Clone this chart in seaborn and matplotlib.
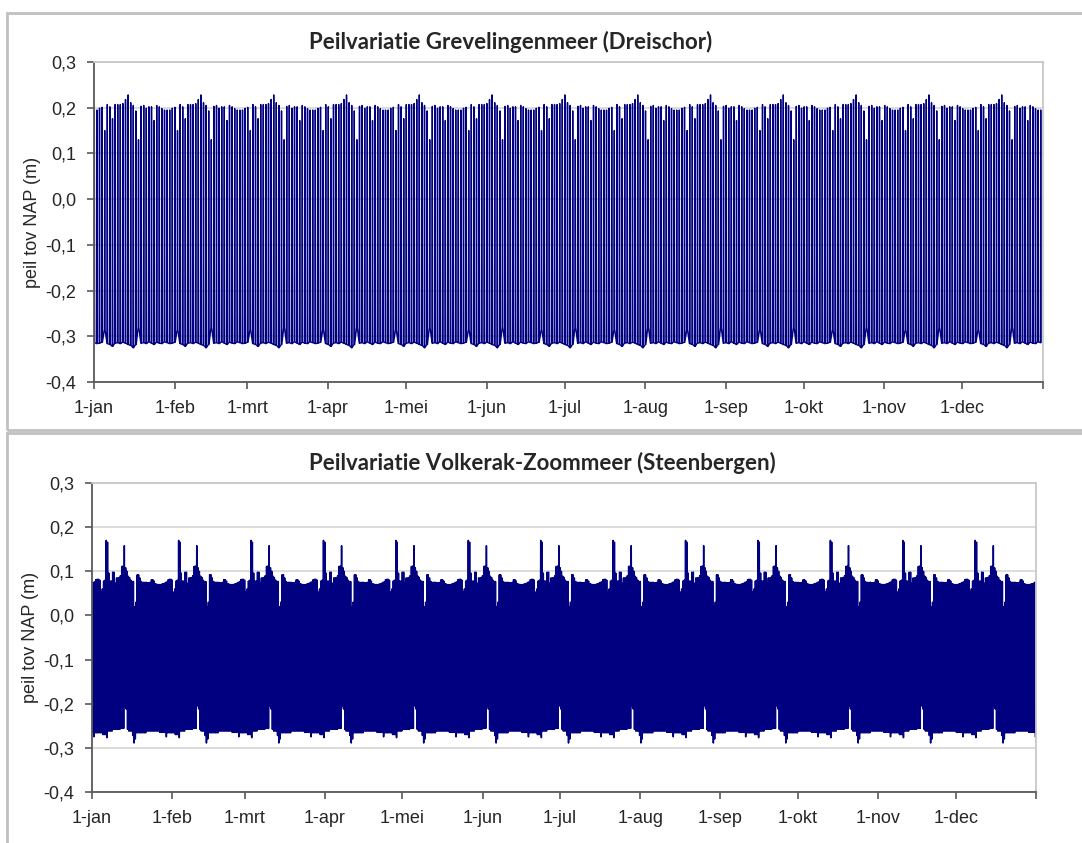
import numpy as np
import pandas as pd
import matplotlib.pyplot as plt
import seaborn as sns
from matplotlib.patches import Rectangle

# Grevelingenmeer: daily high / low (m NAP) over one 28-day cycle, starting at the peak
grev_high = [0.228, 0.211, 0.205, 0.193, 0.130, 0.203, 0.205, 0.199, 0.202, 0.202,
             0.172, 0.205, 0.202, 0.198, 0.195, 0.195, 0.195, 0.199, 0.201, 0.150,
             0.207, 0.202, 0.176, 0.207, 0.207, 0.207, 0.209, 0.218]
grev_low = [-0.318, -0.320, -0.325, -0.318, -0.280, -0.315, -0.314, -0.316, -0.312, -0.315,
            -0.318, -0.313, -0.315, -0.316, -0.312, -0.314, -0.316, -0.315, -0.313, -0.285,
            -0.316, -0.318, -0.322, -0.315, -0.314, -0.316, -0.313, -0.315]
grev_offset = 13  # days from 1-jan to first peak

# Volkerak-Zoommeer: half-daily max / min (m NAP) over one 28-day cycle, starting at first spike
volk_high = [0.170, 0.166, 0.096, 0.078, 0.078, 0.098, 0.098, 0.073, 0.085, 0.085,
             0.086, 0.090, 0.111, 0.112, 0.158, 0.108, 0.100, 0.089, 0.086, 0.080,
             0.077, 0.077, 0.020, 0.030, 0.092, 0.092, 0.085, 0.077, 0.075, 0.075,
             0.075, 0.075, 0.074, 0.074, 0.075, 0.081, 0.081, 0.078, 0.072, 0.071,
             0.070, 0.070, 0.070, 0.071, 0.072, 0.073, 0.075, 0.076, 0.081, 0.082,
             0.082, 0.080, 0.053, 0.060, 0.078, 0.080]
volk_low = [-0.277, -0.262, -0.262, -0.262, -0.262, -0.258, -0.258, -0.258, -0.258, -0.258,
            -0.258, -0.256, -0.256, -0.256, -0.205, -0.212, -0.258, -0.262, -0.262, -0.262,
            -0.272, -0.289, -0.280, -0.266, -0.266, -0.266, -0.266, -0.266, -0.266, -0.266,
            -0.266, -0.262, -0.262, -0.262, -0.262, -0.262, -0.262, -0.262, -0.262, -0.262,
            -0.262, -0.265, -0.265, -0.265, -0.265, -0.265, -0.275, -0.266, -0.266, -0.266,
            -0.266, -0.266, -0.266, -0.270, -0.270, -0.270]
volk_offset = 11  # half-days from 1-jan to first spike

month_starts = [0, 31, 59, 90, 120, 151, 181, 212, 243, 273, 304, 334, 365]
month_labels = ["1-jan", "1-feb", "1-mrt", "1-apr", "1-mei", "1-jun",
                "1-jul", "1-aug", "1-sep", "1-okt", "1-nov", "1-dec", ""]
y_ticks = [-0.4, -0.3, -0.2, -0.1, 0.0, 0.1, 0.2, 0.3]
y_labels = ["-0,4", "-0,3", "-0,2", "-0,1", "0,0", "0,1", "0,2", "0,3"]

sns.set_theme(style="white")
plt.rcParams["font.family"] = ["Liberation Sans", "DejaVu Sans"]

# build plotting frames
hi = np.tile(np.roll(grev_high, grev_offset), 14)[:365]
lo = np.tile(np.roll(grev_low, grev_offset), 14)[:365]
day = np.arange(365)
df_grev = pd.DataFrame({
    "dag": np.column_stack([day, day + 0.12, day + 0.24]).ravel(),
    "peil": np.column_stack([lo, hi, lo]).ravel(),
})

vhi = np.tile(np.roll(volk_high, volk_offset), 14)[:730]
vlo = np.tile(np.roll(volk_low, volk_offset), 14)[:730]
t = np.arange(730) * 0.5
df_volk = pd.DataFrame({
    "dag": np.column_stack([t, t + 0.25]).ravel(),
    "peil": np.column_stack([vhi, vlo]).ravel(),
})

W, H = 1082, 843
fig = plt.figure(figsize=(W / 100, H / 100), dpi=100)


def px_axes(x0, y0, x1, y1):
    return fig.add_axes([x0 / W, 1 - y1 / H, (x1 - x0) / W, (y1 - y0) / H])


ax1 = px_axes(94, 62, 1043, 382)
ax2 = px_axes(92, 483, 1036, 792)

panels = [
    (ax1, df_grev, "Peilvariatie Grevelingenmeer (Dreischor)", 511, 1.0),
    (ax2, df_volk, "Peilvariatie Volkerak-Zoommeer (Steenbergen)", 542, 1.1),
]

for ax, df, title, tx, lw in panels:
    sns.lineplot(data=df, x="dag", y="peil", ax=ax, color="#000080", lw=lw,
                 estimator=None, sort=False)
    ax.set_xlim(0, 365)
    ax.set_ylim(-0.4, 0.3)
    ax.set_yticks(y_ticks, y_labels)
    ax.set_xticks(month_starts, month_labels)
    ax.yaxis.grid(True, color="#d9d9d9", lw=1.3)
    ax.set_axisbelow(True)
    ax.set_xlabel("")
    ax.set_ylabel("peil tov NAP (m)", fontsize=13, labelpad=3)
    ax.tick_params(axis="both", labelsize=13, length=5, width=1.2,
                   color="#595959", pad=8, left=True, bottom=True)
    for side in ["left", "bottom"]:
        ax.spines[side].set_color("#595959")
        ax.spines[side].set_linewidth(1.3)
    for side in ["top", "right"]:
        ax.spines[side].set_color("#c8c8c8")
        ax.spines[side].set_linewidth(1.3)
    pos = ax.get_position()
    fig.text(tx / W, pos.y1 + 20 / H, title, ha="center", va="center",
             fontsize=16, fontweight="bold", family=["Lato", "DejaVu Sans"])

# chart area borders
fig.add_artist(Rectangle((7 / W, 1 - 430 / H), 1.0, 417 / H, fill=False,
                         edgecolor="#c0c0c0", lw=2, transform=fig.transFigure))
fig.add_artist(Rectangle((7 / W, -0.05), 1.0, 1 - 433 / H + 0.05, fill=False,
                         edgecolor="#c0c0c0", lw=2, transform=fig.transFigure))

plt.savefig("out.png", dpi=100)
plt.close()
